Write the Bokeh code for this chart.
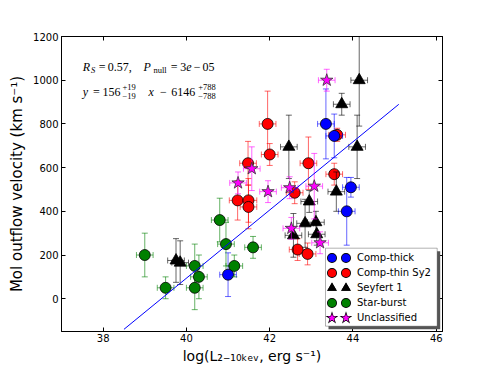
import numpy as np
from bokeh.plotting import figure
from bokeh.models import Label, Legend, LegendItem, LinearAxis, Range1d, FixedTicker, BoxAnnotation
from bokeh.embed import file_html
from bokeh.resources import INLINE

# ---------------- data ----------------
thick_x = [41.0, 43.35, 43.55, 43.95, 43.85]
thick_y = [110, 800, 745, 510, 400]
thick_xerr = [0.2, 0.2, 0.2, 0.2, 0.2]
thick_yerr = [100, 160, 100, 45, 155]

thin_x = [41.95, 42.0, 41.48, 41.23, 41.49, 41.49, 42.93, 43.55, 43.62, 42.6, 42.67, 42.91]
thin_y = [800, 660, 620, 450, 450, 420, 620, 570, 750, 485, 225, 205]
thin_xerr = [0.2, 0.2, 0.2, 0.2, 0.2, 0.2, 0.2, 0.2, 0.2, 0.2, 0.2, 0.2]
thin_yerr = [150, 50, 100, 90, 100, 100, 120, 50, 30, 50, 50, 50]

sy1_x = [39.75, 39.85, 42.46, 43.73, 44.15, 44.1, 43.6, 42.95, 42.85, 43.11, 43.13, 42.57]
sy1_y = [175, 165, 695, 890, 1000, 695, 490, 445, 345, 350, 295, 290]
sy1_xerr = [0.2, 0.2, 0.2, 0.2, 0.2, 0.2, 0.2, 0.2, 0.2, 0.2, 0.2, 0.2]
sy1_yerr = [100, 100, 145, 50, 210, 145, 90, 50, 110, 50, 50, 100]

sb_x = [39.0, 39.5, 40.2, 40.2, 40.3, 40.8, 40.95, 41.15, 41.6]
sb_y = [200, 50, 150, 50, 100, 360, 250, 150, 235]
sb_xerr = [0.2, 0.2, 0.2, 0.2, 0.2, 0.2, 0.2, 0.2, 0.2]
sb_yerr = [100, 50, 100, 100, 100, 100, 100, 50, 50]

unc_x = [41.57, 41.24, 41.96, 43.37, 42.48, 43.07, 42.52, 43.21]
unc_y = [595, 530, 490, 1000, 508, 515, 322, 256]
unc_xerr = [0.2, 0.2, 0.2, 0.2, 0.2, 0.2, 0.2, 0.2]
unc_yerr = [100, 50, 50, 50, 50, 150, 50, 50]

fit_slope = 156
fit_intercept = -6146
fit_x = [38.5, 45.1]

series_labels = ["Comp-thick", "Comp-thin Sy2", "Seyfert 1", "Star-burst", "Unclassified"]
x_ticks = [38, 40, 42, 44, 46]
y_ticks = [0, 200, 400, 600, 800, 1000, 1200]
x_label = "log(L\u2082\u208b\u2081\u2080\u2096\u2091\u1d65, erg s\u207b\u00b9)"
y_label = "Mol outflow velocity (km s\u207b\u00b9)"

# ---------------- figure ----------------
p = figure(width=491, height=368, x_range=Range1d(37, 46.15), y_range=Range1d(-150, 1200),
           output_backend="svg", toolbar_location=None, title=None,
           min_border_left=61, min_border_right=49, min_border_top=36, min_border_bottom=37)
p.grid.visible = False
p.outline_line_color = "black"
p.outline_line_width = 1
p.background_fill_color = "white"
p.border_fill_color = "white"
# far-away range used only by the legend's sample glyphs (keeps them out of the view)
p.extra_x_ranges = {"legend_only": Range1d(0, 1)}

def style_axis(ax, ticks, show_labels):
    ax.ticker = FixedTicker(ticks=ticks)
    ax.major_tick_in = 4
    ax.major_tick_out = 0
    ax.minor_tick_line_color = None
    ax.axis_line_color = "black"
    ax.major_tick_line_color = "black"
    ax.major_label_text_font = "DejaVu Sans"
    ax.major_label_text_font_size = "10px"
    ax.major_label_standoff = 2
    ax.major_label_text_color = "black" if show_labels else None

style_axis(p.xaxis[0], x_ticks, True)
style_axis(p.yaxis[0], y_ticks, True)
p.yaxis[0].major_label_standoff = 3
for ax, lab, size, standoff in [(p.xaxis[0], x_label, "14px", 3), (p.yaxis[0], y_label, "15px", 4)]:
    ax.axis_label = lab
    ax.axis_label_text_font = "DejaVu Sans"
    ax.axis_label_text_font_size = size
    ax.axis_label_text_font_style = "normal"
    ax.axis_label_text_color = "black"
    ax.axis_label_standoff = standoff

ax_r = LinearAxis()
style_axis(ax_r, y_ticks, False)
p.add_layout(ax_r, "right")
ax_t = LinearAxis()
style_axis(ax_t, x_ticks, False)
p.add_layout(ax_t, "above")

# ---------------- error bars + markers ----------------
def draw_group(xs, ys, xe, ye, color, marker, size, fill, edge):
    xs = np.asarray(xs, float); ys = np.asarray(ys, float)
    xe = np.asarray(xe, float); ye = np.asarray(ye, float)
    kw = dict(line_color=color, line_alpha=0.6, line_width=1)
    p.segment(x0=xs, y0=ys - ye, x1=xs, y1=ys + ye, **kw)
    p.segment(x0=xs - xe, y0=ys, x1=xs + xe, y1=ys, **kw)
    p.scatter(x=xs, y=ys + ye, marker="dash", size=6, **kw)
    p.scatter(x=xs, y=ys - ye, marker="dash", size=6, **kw)
    p.scatter(x=xs - xe, y=ys, marker="dash", angle=np.pi / 2, size=6, **kw)
    p.scatter(x=xs + xe, y=ys, marker="dash", angle=np.pi / 2, size=6, **kw)
    return p.scatter(x=xs, y=ys, marker=marker, size=size, fill_color=fill,
                     line_color=edge, line_width=0.8)

draw_group(thin_x, thin_y, thin_xerr, thin_yerr, "#ff0000", "circle", 11, "#ff0000", "black")
draw_group(thick_x, thick_y, thick_xerr, thick_yerr, "#0000ff", "circle", 11, "#0000ff", "black")
draw_group(sb_x, sb_y, sb_xerr, sb_yerr, "#008000", "circle", 11, "#008000", "black")
draw_group(sy1_x, sy1_y, sy1_xerr, sy1_yerr, "black", "triangle", 12, "black", "black")
draw_group(unc_x, unc_y, unc_xerr, unc_yerr, "#ff00ff", "star", 13, "#ff00ff", "#333333")

fx = np.asarray(fit_x, float)
p.line(x=fx, y=fit_slope * fx + fit_intercept, line_color="#0000ff", line_width=1)

# ---------------- legend: frame + shadow boxes, two markers per entry ----------------
box_units = dict(left_units="canvas", right_units="canvas", top_units="canvas", bottom_units="canvas")
p.add_layout(BoxAnnotation(left=328, right=439.7, top=250.7, bottom=328.7, fill_color="#555555",
                           fill_alpha=1, line_color=None, **box_units))
p.add_layout(BoxAnnotation(left=325, right=436.7, top=247.7, bottom=325.7, fill_color="white",
                           fill_alpha=1, line_color="black", line_width=1, **box_units))

def legend_glyph(xs, ys, marker, fill, rim_w, inner_w):
    rb = p.scatter(x=xs, y=ys, marker=marker, fill_color="black", line_color="black",
                   line_width=rim_w, line_join="miter", x_range_name="legend_only")
    rc = p.scatter(x=xs, y=ys, marker=marker, fill_color=fill, line_color=fill,
                   line_width=inner_w, line_join="miter", x_range_name="legend_only")
    return [rb, rc]

leg_rends = [legend_glyph(thick_x, thick_y, "circle", "#0000ff", 4.8, 3.0),
             legend_glyph(thin_x, thin_y, "circle", "#ff0000", 4.8, 3.0),
             legend_glyph(sy1_x, sy1_y, "triangle", "black", 2.6, 2.6),
             legend_glyph(sb_x, sb_y, "circle", "#008000", 4.8, 3.0),
             legend_glyph(unc_x, unc_y, "star", "#ff00ff", 2.6, 1.2)]

common = dict(glyph_width=13, glyph_height=15, label_height=15, spacing=0, padding=1, margin=0,
              label_text_font="DejaVu Sans", label_text_font_size="10px",
              background_fill_alpha=0, border_line_color=None)

p.add_layout(Legend(items=[LegendItem(label=l, renderers=r) for l, r in zip(series_labels, leg_rends)],
                    location=(264, 6.3), label_standoff=19, label_text_color="black", **common))
p.add_layout(Legend(items=[LegendItem(label="", renderers=r) for r in leg_rends],
                    location=(278.2, 6.3), label_standoff=0, label_text_color=None, **common))

# ---------------- math-like annotation texts ----------------
def piece(txt, xo, yo, size, style="normal", font="Liberation Serif"):
    p.add_layout(Label(x=37, y=1200, x_offset=xo, y_offset=yo, text=txt, text_font=font,
                       text_font_size=size, text_font_style=style, text_color="black",
                       text_baseline="alphabetic", text_align="left"))

M, S = "12px", "8.5px"
stats = [  # (text, x offset from frame left, y offset from frame top, size, style)
    ("R", 21.3, -30, M, "italic"), ("S", 29.6, -33, S, "italic"), ("=", 37.2, -30, M, "normal"),
    ("0.57,", 46.3, -30, M, "normal"), ("P", 82, -30, M, "italic"), ("null", 91.9, -33, S, "normal"),
    ("=", 109.3, -30, M, "normal"), ("3", 118.8, -30, M, "normal"), ("e", 124.8, -30, M, "italic"),
    ("\u2212", 132.3, -30, M, "normal"), ("05", 141, -30, M, "normal"),
    ("y", 21.3, -55, M, "italic"), ("=", 31.6, -55, M, "normal"), ("156", 41.1, -55, M, "normal"),
    ("+19", 61, -50, S, "normal"), ("\u221219", 61, -59.5, S, "normal"),
    ("x", 87.1, -55, M, "italic"), ("\u2212", 98.5, -55, M, "normal"), ("6146", 109.7, -55, M, "normal"),
    ("+788", 136.7, -50, S, "normal"), ("\u2212788", 136.7, -59.5, S, "normal"),
]
for txt, xo, yo, size, style in stats:
    piece(txt, xo, yo, size, style)

open("out.html", "w").write(file_html(p, INLINE))
